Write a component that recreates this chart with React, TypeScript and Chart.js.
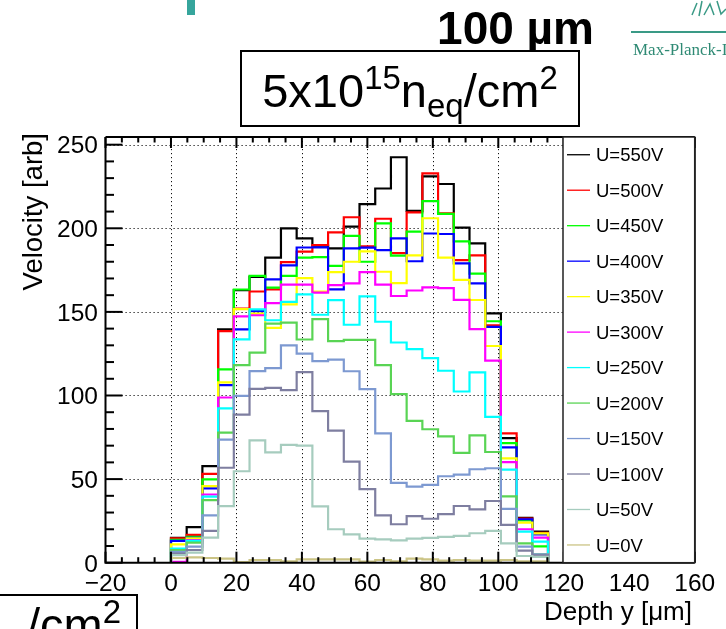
import React, { useEffect, useRef } from "react";
import { Chart, registerables } from "chart.js";

Chart.register(...registerables);

// ---- histogram binning (depth y in µm) ----
const binEdges = [0, 4.8, 9.6, 14.4, 19.2, 24, 28.8, 33.6, 38.4, 43.2, 48, 52.8, 57.6, 62.4, 67.2, 72, 76.8, 81.6, 86.4, 91.2, 96, 100.8, 105.6, 110.4, 115.2];

// ---- series values (velocity, arb.) per bin ----
const u550 = [14.8, 21.3, 57.7, 139.5, 163, 171, 182.5, 200, 194, 189.6, 188, 201, 214.4, 223.8, 242.5, 210.4, 231, 226.5, 200.4, 191, 149.1, 74.5, 26.8, 18.6];
const u500 = [14.5, 16.6, 53.1, 138.5, 152, 162.2, 163.5, 179.8, 186, 190, 197.5, 206.6, 189.2, 205.7, 185.2, 209.5, 232.8, 209, 181, 183.8, 142, 77.4, 26.4, 17.8];
const u450 = [13.6, 15.5, 49.8, 115.6, 163.4, 171.5, 164.5, 171.5, 182.5, 182.8, 177.5, 195.5, 180, 203, 183.6, 198, 216.3, 208.6, 192.2, 172.9, 144.4, 71.5, 25.3, 9.8];
const u400 = [13, 14.8, 44.5, 106.2, 139.5, 150.5, 169.5, 177.8, 188.5, 188.6, 163.5, 188, 188.4, 187, 194, 180.3, 196.9, 196.6, 179, 167, 141, 69, 26, 17];
const u350 = [11, 14.5, 45.8, 107.8, 151.7, 149, 140.5, 154.5, 170.2, 162.2, 173.8, 180, 186.2, 174, 167.2, 183.8, 206, 182.4, 169.1, 157.1, 129.6, 62.4, 24, 17.5];
const u300 = [0.5, 13.5, 40.8, 98.8, 147.3, 148, 155.3, 166.3, 166.3, 161.5, 166, 167, 173.8, 166.3, 159.5, 162.8, 164.7, 164.2, 157.2, 139.7, 120.8, 60.2, 20, 15];
const u250 = [8.5, 13, 39.5, 92.3, 133.6, 151.5, 145, 156, 160.5, 148.3, 157, 142.3, 159.3, 144.1, 131.7, 127.7, 122.4, 114.8, 102.4, 113.8, 87.2, 55.7, 18.6, 12.6];
const u200 = [7.5, 12, 37.4, 77.8, 118.2, 125.7, 143, 143.6, 133.5, 145.7, 132.5, 133.3, 133.3, 118.2, 100.8, 84.8, 79.8, 75.5, 65.7, 76.2, 66.2, 39.7, 11.6, 5];
const u150 = [6.5, 9.6, 28.3, 73.6, 99.8, 114.6, 116.4, 130, 125, 120.5, 121.5, 114.5, 103.8, 77.4, 47.7, 45.5, 46.5, 51.7, 52.7, 55.9, 56.5, 32.2, 9.6, 5];
const u100 = [5.5, 7.6, 19, 56.8, 88.6, 104, 104.6, 103.2, 114, 90.6, 79, 60.5, 44, 28.3, 23, 27.9, 26.3, 29, 33.9, 31.9, 36.9, 22.6, 7.2, 4.4];
const u50 = [4.5, 6, 15, 33.8, 54.7, 73.2, 66, 70.5, 70, 33.7, 20, 17, 14.4, 14, 13.4, 14.4, 14.8, 15.4, 16, 17.6, 19, 11.6, 4, 3.5];
const u0 = [2.8, 3.2, 2.8, 2.4, 0.4, 1.6, 1.6, 0.8, 2, 2, 2, 2, 0.6, 1.6, 0.8, 2.4, 2, 1.2, 1.6, 1.2, 1.2, 1.6, 0.8, 0.8];

const seriesLabels = ["U=550V", "U=500V", "U=450V", "U=400V", "U=350V", "U=300V", "U=250V", "U=200V", "U=150V", "U=100V", "U=50V", "U=0V"];
const seriesValues = [u550, u500, u450, u400, u350, u300, u250, u200, u150, u100, u50, u0];
const seriesColors = ["#000000", "#ff0000", "#00ff00", "#0000ff", "#ffff00", "#ff00ff", "#00ffff", "#59d454", "#7d99d1", "#7e7ea0", "#a6ccbe", "#cbc485"];

// ---- axes ----
const xTickValues = [-20, 0, 20, 40, 60, 80, 100, 120, 140, 160];
const xTickLabels = ["\u221220", "0", "20", "40", "60", "80", "100", "120", "140", "160"];
const yTickValues = [0, 50, 100, 150, 200, 250];
const yTickLabels = ["0", "50", "100", "150", "200", "250"];
const xGridValues = [0, 20, 40, 60, 80, 100, 120, 140];
const yGridValues = [50, 100, 150, 200, 250];
const xTitle = "Depth y [\u03bcm]";
const yTitle = "Velocity [arb]";

const FONT = "'Liberation Sans', Arial, Helvetica, sans-serif";

function toSteps(values: number[]) {
  const pts: { x: number; y: number }[] = [{ x: binEdges[0], y: 0 }];
  values.forEach((v, i) => pts.push({ x: binEdges[i], y: v }));
  const n = values.length;
  pts.push({ x: binEdges[n], y: values[n - 1] });
  pts.push({ x: binEdges[n], y: 0 });
  return pts;
}

const rootPlugin = {
  id: "rootStyle",
  beforeDatasetsDraw(chart: any) {
    const { ctx, chartArea: a, scales } = chart;
    const x = scales.x, y = scales.y;
    ctx.save();
    ctx.strokeStyle = "#111";
    ctx.lineWidth = 1;
    ctx.setLineDash([1.2, 2.8]);
    for (const v of xGridValues) {
      const px = Math.round(x.getPixelForValue(v)) + 0.5;
      ctx.beginPath(); ctx.moveTo(px, a.top); ctx.lineTo(px, a.bottom); ctx.stroke();
    }
    for (const v of yGridValues) {
      const py = Math.round(y.getPixelForValue(v)) + 0.5;
      ctx.beginPath(); ctx.moveTo(a.left, py); ctx.lineTo(a.right, py); ctx.stroke();
    }
    ctx.restore();
  },
  afterDatasetsDraw(chart: any) {
    const { ctx, chartArea: a, scales } = chart;
    const x = scales.x, y = scales.y;
    ctx.save();
    ctx.setLineDash([]);
    ctx.strokeStyle = "#000";
    ctx.lineWidth = 2;
    // frame
    ctx.beginPath();
    ctx.moveTo(a.left, a.top); ctx.lineTo(a.right, a.top);
    ctx.moveTo(a.left, a.top); ctx.lineTo(a.left, a.bottom);
    ctx.moveTo(a.left - 1, a.bottom); ctx.lineTo(a.right, a.bottom);
    ctx.moveTo(a.right, a.top); ctx.lineTo(a.right, a.bottom);
    ctx.stroke();
    // y ticks (inward)
    for (let v = 0; v <= 250; v += 10) {
      const py = y.getPixelForValue(v);
      const len = v % 50 === 0 ? 17 : 8.5;
      ctx.beginPath(); ctx.moveTo(a.left, py); ctx.lineTo(a.left + len, py); ctx.stroke();
    }
    // x ticks bottom and top (inward)
    for (let v = -20; v <= 160; v += 5) {
      const px = x.getPixelForValue(v);
      const len = v % 20 === 0 ? 11 : 5.5;
      ctx.beginPath(); ctx.moveTo(px, a.bottom); ctx.lineTo(px, a.bottom - len); ctx.stroke();
      ctx.beginPath(); ctx.moveTo(px, a.top); ctx.lineTo(px, a.top + len); ctx.stroke();
    }
    // tick labels
    ctx.fillStyle = "#000";
    ctx.font = `24.5px ${FONT}`;
    ctx.textAlign = "right";
    ctx.textBaseline = "alphabetic";
    yTickValues.forEach((v, i) => {
      ctx.fillText(yTickLabels[i], a.left - 7.5, y.getPixelForValue(v) + 8.8);
    });
    ctx.textAlign = "center";
    xTickValues.forEach((v, i) => {
      ctx.fillText(xTickLabels[i], x.getPixelForValue(v), a.bottom + 28.5);
    });
    // axis titles
    ctx.font = `26px ${FONT}`;
    ctx.textAlign = "right";
    ctx.fillText(xTitle, 692, 620);
    ctx.save();
    ctx.font = `27.5px ${FONT}`;
    ctx.translate(42, 133);
    ctx.rotate(-Math.PI / 2);
    ctx.textAlign = "right";
    ctx.fillText(yTitle, 0, 0);
    ctx.restore();

    // legend box (inside frame, right side)
    const lx = 563, lt = a.top, lr = a.right, lb = a.bottom;
    ctx.fillStyle = "#fff";
    ctx.fillRect(lx, lt, lr - lx, lb - lt);
    ctx.strokeStyle = "#222";
    ctx.lineWidth = 1.5;
    ctx.strokeRect(lx, lt, lr - lx, lb - lt);
    const n = seriesLabels.length;
    const step = (lb - lt) / n;
    ctx.font = `18.5px ${FONT}`;
    ctx.textAlign = "left";
    seriesLabels.forEach((lab, i) => {
      const cy = lt + (i + 0.5) * step;
      ctx.strokeStyle = seriesColors[i];
      ctx.lineWidth = 1.3;
      ctx.beginPath(); ctx.moveTo(567, cy); ctx.lineTo(590, cy); ctx.stroke();
      ctx.fillStyle = "#000";
      ctx.fillText(lab, 596, cy + 6.6);
    });
    ctx.restore();
  },
};

export default function App() {
  const ref = useRef<HTMLCanvasElement>(null);
  useEffect(() => {
    if (!ref.current) return;
    const chart = new Chart(ref.current, {
      type: "line",
      data: {
        datasets: seriesValues.map((vals, i) => ({
          label: seriesLabels[i],
          data: toSteps(vals),
          borderColor: seriesColors[i],
          backgroundColor: seriesColors[i],
          borderWidth: 2.2,
          pointRadius: 0,
          stepped: "before" as const,
          fill: false,
          tension: 0,
          order: seriesValues.length - 1 - i,
          borderJoinStyle: "miter" as const,
        })),
      },
      options: {
        responsive: false,
        animation: false,
        events: [],
        layout: { padding: { left: 105.5, right: 31.3, top: 137, bottom: 66.3 } },
        scales: {
          x: { type: "linear", min: -20, max: 160, display: false },
          y: { type: "linear", min: 0, max: 254.6, display: false },
        },
        plugins: { legend: { display: false }, tooltip: { enabled: false } },
      },
      plugins: [rootPlugin],
    } as any);
    return () => chart.destroy();
  }, []);

  return (
    <div style={{ position: "fixed", left: 0, top: 0, width: 726, height: 629, background: "#fff", overflow: "hidden" }}>
      <canvas ref={ref} width={726} height={629} style={{ position: "absolute", left: 0, top: 0, width: 726, height: 629 }} />
      <svg width={726} height={629} style={{ position: "absolute", left: 0, top: 0, pointerEvents: "none" }}>
        <rect x={187} y={0} width={8} height={15} fill="#36a59c" />
        <text x={594} y={44} textAnchor="end" fontFamily={FONT} fontWeight="bold" fontSize={46} fill="#000">100 µm</text>
        <rect x={241} y={51} width={338} height={75} fill="#fff" stroke="#000" strokeWidth={2} />
        <text x={410} y={107} textAnchor="middle" fontFamily={FONT} fontSize={47} fill="#000">
          5x10<tspan fontSize={33} dy={-18}>15</tspan><tspan dy={18}>n</tspan><tspan fontSize={33} dy={10}>eq</tspan><tspan dy={-10}>/cm</tspan><tspan fontSize={33} dy={-18}>2</tspan>
        </text>
        <rect x={-220} y={595} width={357} height={70} fill="#fff" stroke="#000" strokeWidth={2} />
        <text x={121} y={641} textAnchor="end" fontFamily={FONT} fontSize={47} fill="#000">
          /cm<tspan fontSize={33} dy={-18}>2</tspan>
        </text>
        <line x1={631} y1={32} x2={726} y2={32} stroke="#3a9a86" strokeWidth={2} />
        <text x={633} y={55} fontFamily="'Liberation Serif', 'DejaVu Serif', serif" fontSize={17} fill="#2f8a74">Max-Planck-Institut</text>
        <path d="M692,15 L697,3 M699,16 L702,1 M704,15 L710,4 L714,15 M717,1 L721,14 L726,9" stroke="#3a9a86" strokeWidth={1.5} fill="none" />
      </svg>
    </div>
  );
}
